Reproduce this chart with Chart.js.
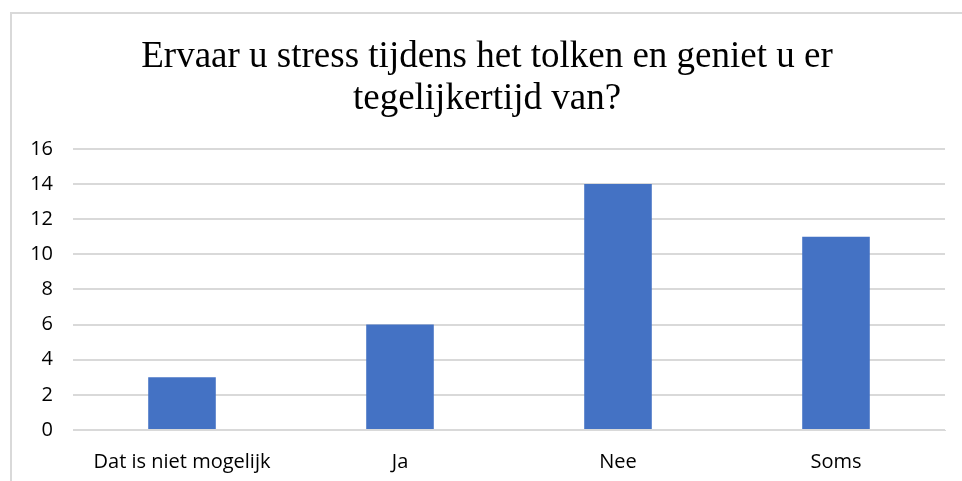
<!DOCTYPE html>
<html lang="nl">
<head>
  <meta charset="UTF-8">
  <title>Ervaar u stress</title>
  <script src="https://cdn.jsdelivr.net/npm/chart.js"></script>
  <style>
    body {
      margin: 0;
      padding: 0;
      background: white;
      overflow: hidden;
    }
    .frame {
      position: absolute;
      left: 10px;
      top: 12px;
      width: 985px;
      height: 472px;
      border-left: 2px solid #d9d9d9;
      border-top: 2px solid #d9d9d9;
    }
  </style>
</head>
<body>
  <div class="frame">
    <canvas id="myChart" width="985" height="472"></canvas>
  </div>

  <script>
    const categories = ['Dat is niet mogelijk', 'Ja', 'Nee', 'Soms'];
    const values = [3, 6, 14, 11];
    const titleLines = ['Ervaar u stress tijdens het tolken en geniet u er', 'tegelijkertijd van?'];

    const ctx = document.getElementById('myChart').getContext('2d');

    const chart = new Chart(ctx, {
      type: 'bar',
      data: {
        labels: categories,
        datasets: [{
          data: values,
          backgroundColor: '#4472C4',
          barPercentage: 0.31,
          categoryPercentage: 1
        }]
      },
      options: {
        responsive: false,
        animation: false,
        layout: {
          padding: { left: 17, right: 52, top: 0, bottom: 0 }
        },
        plugins: {
          legend: { display: false },
          tooltip: { enabled: false },
          title: {
            display: true,
            text: titleLines,
            color: '#000',
            font: { family: 'Liberation Serif', size: 37, weight: 'normal', lineHeight: 1.135 },
            padding: { top: 22, bottom: 29 }
          }
        },
        scales: {
          x: {
            grid: { display: false },
            border: { color: '#d9d9d9' },
            ticks: {
              color: '#000',
              padding: 12,
              font: { family: 'Open Sans', size: 20 }
            }
          },
          y: {
            min: 0,
            max: 16,
            afterFit: (scale) => { scale.width = 44; },
            ticks: {
              stepSize: 2,
              color: '#000',
              padding: 20,
              font: { family: 'Open Sans', size: 20 }
            },
            grid: { color: '#d9d9d9', lineWidth: 2, drawTicks: false },
            border: { display: false }
          }
        }
      }
    });
  </script>
</body>
</html>
